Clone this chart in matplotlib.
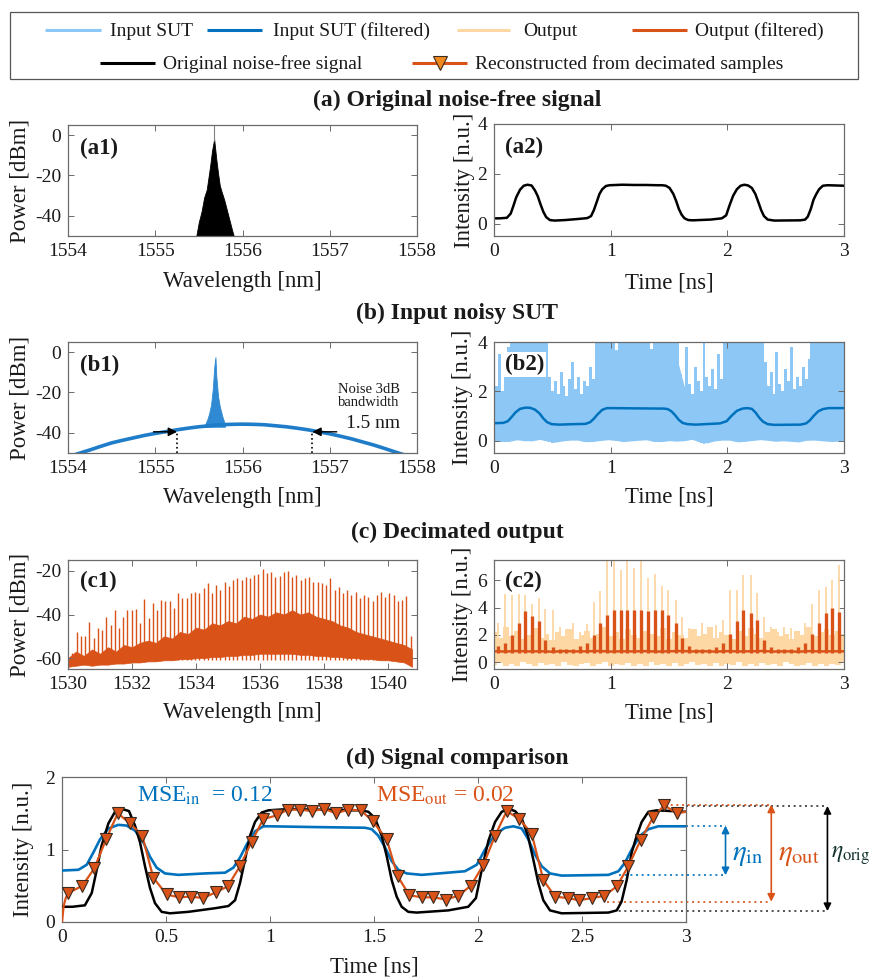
import numpy as np
import matplotlib
matplotlib.use("Agg")
import matplotlib.pyplot as plt
from matplotlib.patches import Rectangle

plt.rcParams['font.family'] = ['Liberation Serif', 'DejaVu Serif']
plt.rcParams['mathtext.fontset'] = 'stix'
plt.rcParams['axes.unicode_minus'] = False

# ---------------- data ----------------
# (a1) noise-free spectrum outline
A1_WL = [1555.47, 1555.50, 1555.53, 1555.56, 1555.59, 1555.61, 1555.63, 1555.65, 1555.675,
         1555.70, 1555.72, 1555.74, 1555.76, 1555.79, 1555.82, 1555.85, 1555.88, 1555.90]
A1_P = [-50, -43, -38, -31, -27, -21, -15, -8, -2, -12, -19, -25, -28, -32, -37, -42, -47, -50]

# (b1) noisy input spectrum: ASE hump + signal peak
B1_WL = [1554.0, 1554.125, 1554.25, 1554.375, 1554.5, 1554.625, 1554.75, 1554.875, 1555.0,
         1555.125, 1555.25, 1555.375, 1555.5, 1555.625, 1555.75, 1555.875, 1556.0, 1556.125,
         1556.25, 1556.375, 1556.5, 1556.625, 1556.75, 1556.875, 1557.0, 1557.125, 1557.25,
         1557.375, 1557.5, 1557.625, 1557.75, 1557.875, 1558.0]
B1_P = [-52, -50.2, -48.5, -46.7, -45, -43.7, -42.5, -41.3, -40.3, -39.4, -38.5, -37.7, -37,
        -36.5, -36, -35.8, -35.7, -35.8, -36, -36.5, -37, -37.7, -38.5, -39.5, -40.5, -41.7,
        -43, -44.5, -46, -47.7, -49.5, -51.2, -53]
B1_PK_WL = [1555.57, 1555.60, 1555.62, 1555.64, 1555.66, 1555.675, 1555.69, 1555.70, 1555.72,
            1555.74, 1555.77, 1555.80]
B1_PK_P = [-36, -33, -30, -26, -18, -8, -2.5, -12, -22, -27, -32, -36]
BW_LEFT, BW_RIGHT, BW_LEVEL = 1555.25, 1556.80, -40

# (c1) decimated output spectrum
C1_COMB_PEAKS = [-57.7, -48, -50, -50, -43.5, -51, -46, -47, -41, -44.7,
                 -38, -46, -41, -38, -38, -37.5, -44, -33, -41.7, -34.8,
                 -38, -33.3, -33.6, -34, -37, -30, -32.5, -32.5, -30, -29.5,
                 -30, -28, -25.6, -30, -26.4, -28.7, -25, -27, -24, -23.4,
                 -24, -22.6, -23.4, -21.8, -21.5, -19.2, -21, -20.3, -22.6, -22.3,
                 -20.3, -20, -22.6, -21.8, -24, -23.4, -22.6, -25, -25, -25.6,
                 -26.4, -23.4, -28.7, -27.2, -30, -28.7, -31, -29.5, -32.5, -31,
                 -31.8, -34, -31, -29.5, -31.8, -30, -31, -34, -33.3, -31.5, -49.8]
C1_COMB_WL = np.linspace(1530.14, 1540.70, len(C1_COMB_PEAKS))
C1_BAND_WL = np.arange(1530.0, 1540.76, 0.25)
C1_BAND_TOP = [-60, -57, -59, -56, -58, -55, -57, -54, -55, -53, -52, -53,
               -50, -51, -48, -49, -46, -47, -44, -45, -43, -44, -41, -42,
               -40, -41, -39, -40, -38, -40, -39, -41, -42, -43, -45, -46,
               -48, -49, -50, -51, -52, -53, -54, -56]
C1_BAND_BOT = [-64, -63.5, -63, -63.5, -63, -63, -62.5, -62.5, -62, -62, -61.5, -61.5,
               -61, -61, -60.5, -60.5, -60, -60, -59.5, -59.5, -59, -59, -58.5, -58.5,
               -58, -58, -58, -58, -58, -58.5, -58.5, -59, -59, -59.5, -59.5, -60,
               -60, -60.5, -60.5, -61, -61, -61.5, -62, -64]

# time-domain signals (ns, n.u.)
T_ORIG = [0, 0.05, 0.11, 0.143, 0.167, 0.19, 0.223, 0.255, 0.287, 0.322, 0.351, 0.375, 0.399,
          0.423, 0.447, 0.479, 0.519, 0.607, 0.736, 0.80, 0.832, 0.856, 0.88, 0.904, 0.928,
          0.96, 0.992, 1.1, 1.2, 1.3, 1.4, 1.44, 1.473, 1.505, 1.537, 1.561, 1.585, 1.609,
          1.633, 1.665, 1.705, 1.857, 1.953, 1.99, 2.018, 2.05, 2.082, 2.114, 2.146, 2.178,
          2.21, 2.24, 2.266, 2.29, 2.314, 2.346, 2.402, 2.627, 2.667, 2.69, 2.715, 2.739,
          2.763, 2.787, 2.819, 2.859, 2.93, 3.0]
Y_ORIG = [0.21, 0.21, 0.23, 0.40, 0.72, 1.05, 1.36, 1.52, 1.56, 1.53, 1.33, 1.10, 0.77,
          0.47, 0.26, 0.14, 0.12, 0.14, 0.19, 0.22, 0.30, 0.54, 0.86, 1.19, 1.38,
          1.51, 1.54, 1.56, 1.55, 1.55, 1.54, 1.54, 1.52, 1.43, 1.19, 0.91, 0.58, 0.35,
          0.21, 0.14, 0.13, 0.16, 0.21, 0.33, 0.72, 1.12, 1.38, 1.52, 1.56, 1.53,
          1.43, 1.19, 0.86, 0.54, 0.30, 0.16, 0.12, 0.13, 0.16, 0.28, 0.58, 0.96,
          1.19, 1.38, 1.52, 1.54, 1.53, 1.52]

T_IN = [0, 0.079, 0.119, 0.151, 0.183, 0.223, 0.271, 0.311, 0.351, 0.391, 0.423, 0.455, 0.495,
        0.559, 0.688, 0.784, 0.824, 0.856, 0.888, 0.928, 0.968, 1.0, 1.2, 1.457, 1.489, 1.521,
        1.553, 1.585, 1.617, 1.657, 1.729, 1.937, 1.994, 2.034, 2.082, 2.13, 2.17, 2.21, 2.242,
        2.274, 2.306, 2.346, 2.402, 2.627, 2.675, 2.707, 2.739, 2.779, 2.819, 2.867, 3.0]
Y_IN = [0.71, 0.72, 0.79, 0.96, 1.14, 1.29, 1.34, 1.33, 1.26, 1.10, 0.90, 0.75, 0.67,
        0.65, 0.67, 0.68, 0.75, 0.89, 1.07, 1.25, 1.32, 1.32, 1.31, 1.30, 1.28, 1.19,
        1.03, 0.84, 0.72, 0.67, 0.65, 0.70, 0.79, 1.00, 1.21, 1.30, 1.32, 1.29, 1.14,
        0.93, 0.77, 0.67, 0.64, 0.65, 0.70, 0.82, 1.00, 1.19, 1.28, 1.32, 1.32]

# decimated samples (reconstruction)
T_REC = [0.030, 0.098, 0.155, 0.212, 0.268, 0.327, 0.386, 0.439, 0.503, 0.562,
         0.619, 0.679, 0.739, 0.796, 0.856, 0.912, 0.968, 1.032, 1.085, 1.144,
         1.200, 1.261, 1.317, 1.377, 1.437, 1.494, 1.561, 1.614, 1.670, 1.729,
         1.785, 1.846, 1.902, 1.966, 2.026, 2.082, 2.138, 2.199, 2.258, 2.314,
         2.370, 2.431, 2.487, 2.546, 2.606, 2.667, 2.723, 2.782, 2.843, 2.896, 2.955]
Y_REC = [0.40, 0.50, 0.74, 1.14, 1.50, 1.36, 1.19, 0.61, 0.38, 0.34,
         0.35, 0.33, 0.41, 0.49, 0.77, 1.11, 1.42, 1.47, 1.55, 1.55,
         1.53, 1.56, 1.50, 1.55, 1.54, 1.39, 1.14, 0.63, 0.37, 0.34,
         0.34, 0.31, 0.36, 0.50, 0.79, 1.19, 1.53, 1.42, 1.22, 0.58,
         0.35, 0.33, 0.30, 0.33, 0.36, 0.49, 0.77, 1.13, 1.45, 1.61, 1.50]
T_OUTF = [0.0, 0.008, 0.018] + T_REC + [3.0]
Y_OUTF = [0.0, 0.22, 0.33] + Y_REC + [1.52]

# (b2) raw noisy input: envelope of the light-blue trace
B2_T = np.linspace(0, 3, 121)
B2_UP = [2.8, 2.2, 3.5, 2.0, 2.6, 3.8,
         4, 4, 4, 4, 4, 4, 4, 4, 4, 4, 4, 4, 4,
         2.6, 2.0, 2.4, 1.9, 2.8, 2.2, 1.8, 2.5, 3.2, 2.1, 2.6, 1.9, 2.4, 2.2, 3.0, 2.5,
         4, 4, 4, 4, 4, 4, 4, 3.6, 4, 4, 4, 4, 4, 4, 4, 4, 4, 4, 4, 3.7, 4, 4, 4, 4, 4, 4, 4, 4, 4,
         2.7, 2.1, 3.8, 2.3, 1.9, 3.0, 2.4, 2.0, 4.0, 2.6, 2.2, 2.9, 2.1, 3.5, 2.5,
         4, 4, 4, 4, 4, 4, 4, 4, 4, 4, 4, 4, 4, 4,
         3.2, 2.2, 2.8, 1.9, 3.6, 2.3, 2.0, 2.9, 2.4, 3.8, 2.1, 2.6, 2.2, 3.0, 2.5, 3.3,
         4, 4, 4, 4, 4, 4, 4, 4, 4, 4, 4, 4]
B2_CORE_T = np.linspace(0, 3, 47)
B2_CORE = [1.8, 1.7, 2.2, 3.4, 3.6, 3.5, 3.4,
           2.2, 1.8, 1.7, 1.9, 1.8, 1.7, 2.0,
           3.2, 3.6, 3.7, 3.6, 3.5, 3.7, 3.6, 3.5, 3.6, 3.7, 3.4,
           2.2, 1.8, 1.7, 1.9, 1.8, 2.4,
           3.4, 3.6, 3.5, 3.6, 3.3,
           2.1, 1.8, 1.7, 1.9, 1.8, 1.9,
           3.2, 3.5, 3.6, 3.6, 3.6]
B2_LO_T = np.linspace(0, 3, 31)
B2_LO = [0.02, -0.06, 0.04, -0.03, 0.06, -0.08, 0.0, 0.04, -0.06, 0.0, 0.05, -0.04, 0.0, 0.04,
         -0.06, 0.0, -0.03, 0.06, -0.12, 0.0, 0.04, -0.06, 0.0, 0.05, -0.03, 0.0, -0.06, 0.04,
         0.0, -0.04, 0.0]

# (c2) decimated output: spikes at sample instants
C2_SPIKE_DARK = [1.16, 1.4, 1.97, 2.9, 3.75, 3.4, 3.0, 1.65, 1.1, 1.0,
                 1.0, 1.0, 1.2, 1.4, 2.0, 2.85, 3.5, 3.8, 3.8, 3.8,
                 3.8, 3.8, 3.75, 3.8, 3.8, 3.5, 2.85, 1.8, 1.2, 1.0,
                 1.0, 1.0, 1.1, 1.4, 2.1, 3.0, 3.8, 3.6, 3.1, 1.65,
                 1.1, 1.0, 1.0, 1.0, 1.1, 1.4, 2.1, 2.9, 3.6, 4.0, 3.7]
C2_SPIKE_LIGHT = [2.9, 5.0, 4.9, 5.0, 4.9, 4.3, 4.7, 3.9, 3.8, 2.6,
                  2.4, 2.9, 2.2, 2.8, 4.4, 5.2, 7.5, 7.5, 6.8, 7.5,
                  6.9, 7.5, 6.2, 6.5, 5.6, 5.3, 4.6, 3.3, 2.5, 2.4,
                  2.9, 2.3, 2.7, 3.1, 5.3, 5.3, 6.4, 6.4, 5.1, 3.3,
                  2.6, 2.2, 2.6, 2.5, 2.3, 2.9, 4.3, 5.3, 5.5, 6.0, 7.1]
C2_T = np.linspace(0, 3, 61)
C2_UP = [2.2, 1.8, 2.6, 1.9, 2.3, 1.7, 2.0, 2.5, 1.8, 2.1, 1.6, 2.2, 1.9, 2.4, 1.7, 2.0,
         2.3, 1.8, 2.1, 2.6, 1.9, 2.2, 1.7, 2.4, 2.0, 1.8, 2.3, 2.1, 1.9, 2.5, 1.7, 2.2,
         2.0, 1.8, 2.4, 1.9, 2.1, 2.6, 1.8, 2.2, 2.0, 1.7, 2.3, 1.9, 2.5, 2.1, 1.8, 2.2,
         2.4, 1.9, 2.1, 1.7, 2.3, 2.0, 2.6, 1.9, 2.2, 2.4, 2.0, 2.3, 2.1]
C2_LO = [-0.2, -0.05, -0.3, -0.1, -0.25, 0.0, -0.15, -0.3, -0.05, -0.2, -0.1, -0.25, 0.0,
         -0.2, -0.3, -0.1, -0.05, -0.25, -0.15, 0.0, -0.3, -0.1, -0.2, -0.05, -0.25, -0.15,
         -0.3, 0.0, -0.2, -0.1, -0.25, -0.05, -0.3, -0.15, 0.0, -0.2, -0.1, -0.25, -0.05,
         -0.3, -0.15, -0.2, 0.0, -0.25, -0.1, -0.3, -0.05, -0.2, -0.15, -0.25, 0.0, -0.1,
         -0.3, -0.2, -0.05, -0.25, -0.15, -0.3, -0.1, -0.2, -0.05]
C2_BASE_T = np.linspace(0, 3, 31)
C2_BASE = [0.80, 0.78, 0.82, 0.79, 0.80, 0.77, 0.81, 0.79, 0.80, 0.82, 0.78, 0.80, 0.79, 0.81,
           0.78, 0.80, 0.82, 0.79, 0.80, 0.78, 0.81, 0.79, 0.80, 0.82, 0.78, 0.80, 0.77, 0.81,
           0.79, 0.80, 0.80]

# (d) annotation levels
ETA_IN = (0.645, 1.33)
ETA_OUT = (0.28, 1.62)
ETA_ORIG = (0.15, 1.60)
MSE_IN, MSE_OUT = 0.12, 0.02

LEG_LABELS = ['Input SUT', 'Input SUT (filtered)', 'Output', 'Output (filtered)',
              'Original noise-free signal', 'Reconstructed from decimated samples']

# ---------------- style ----------------
LBLUE = '#8CC7F6'
BLUE = '#0072BD'
LORANGE = '#FDD7A4'
ORANGE = '#D95319'
BLACK = '#000000'
FRAME = '#6b6b6b'
TXT = '#1a1a1a'

W, H = 873, 977
fig = plt.figure(figsize=(W / 100, H / 100), dpi=100)


def add_ax(l, t, r, b):
    return fig.add_axes([l / W, 1 - b / H, (r - l) / W, (b - t) / H])


def style(ax):
    ax.tick_params(direction='in', top=True, right=True, length=4, width=0.7,
                   color=FRAME, labelsize=14, labelcolor=TXT, pad=5)
    for s in ax.spines.values():
        s.set_color(FRAME)
        s.set_linewidth(0.9)


def labels(ax, xl, yl, xly, ylx):
    ax.set_xlabel(xl, fontsize=16.5, color=TXT, va='center')
    ax.xaxis.set_label_coords(0.5, xly)
    ax.set_ylabel(yl, fontsize=16.5, color=TXT, va='center')
    ax.yaxis.set_label_coords(ylx, 0.5)


def plabel(ax, s, x, y, bg=False):
    kw = dict(transform=ax.transAxes, fontsize=16.5, fontweight='bold', va='center',
              ha='left', color=TXT, zorder=10)
    if bg:
        kw['bbox'] = dict(facecolor='white', edgecolor='none', pad=1.5)
    ax.text(x, y, s, **kw)


# ---- (a1)
ax = add_ax(68, 125, 417, 236)
ax.fill_between(A1_WL, -50, A1_P, color=BLACK, lw=0.6)
ax.vlines([1555.675], -3, 6, color='#808080', lw=0.8)
ax.set_xlim(1554, 1558); ax.set_ylim(-50, 5)
ax.set_xticks([1554, 1555, 1556, 1557, 1558]); ax.set_yticks([-40, -20, 0])
style(ax); labels(ax, 'Wavelength [nm]', 'Power [dBm]', -0.41, -0.1375)
plabel(ax, '(a1)', 0.035, 0.79)

# ---- (a2)
ax = add_ax(494, 124, 844, 236)
ax.plot(T_ORIG, Y_ORIG, color=BLACK, lw=1.8)
ax.set_xlim(0, 3); ax.set_ylim(-0.5, 4)
ax.set_xticks([0, 1, 2, 3]); ax.set_yticks([0, 2, 4])
style(ax); labels(ax, 'Time [ns]', 'Intensity [n.u.]', -0.42, -0.085)
plabel(ax, '(a2)', 0.03, 0.79)

# ---- (b1)
ax = add_ax(68, 342, 417, 453)
ax.plot(B1_WL, B1_P, color='#1E7CC8', lw=2.6, solid_capstyle='butt')
ax.fill_between(B1_PK_WL, -37, B1_PK_P, color='#2F8AD3', lw=0.6)
ax.vlines([BW_LEFT, BW_RIGHT], -50, BW_LEVEL, colors='black', linestyles=':', lw=1.2)
ax.annotate('', xy=(BW_LEFT, BW_LEVEL + 0.5), xytext=(1554.98, BW_LEVEL + 0.5),
            arrowprops=dict(arrowstyle='-|>', color='black', lw=1.0, mutation_scale=13,
                            shrinkA=0, shrinkB=0))
ax.annotate('', xy=(BW_RIGHT, BW_LEVEL + 0.5), xytext=(1557.08, BW_LEVEL + 0.5),
            arrowprops=dict(arrowstyle='-|>', color='black', lw=1.0, mutation_scale=13,
                            shrinkA=0, shrinkB=0))
ax.text(1557.45, -22, 'Noise 3dB\nbandwidth', fontsize=10.5, ha='center', va='center',
        color=TXT, linespacing=1.0)
ax.text(1557.5, -35.5, '1.5 nm', fontsize=14, ha='center', va='center', color=TXT)
ax.set_xlim(1554, 1558); ax.set_ylim(-50, 5)
ax.set_xticks([1554, 1555, 1556, 1557, 1558]); ax.set_yticks([-40, -20, 0])
style(ax); labels(ax, 'Wavelength [nm]', 'Power [dBm]', -0.40, -0.1375)
plabel(ax, '(b1)', 0.035, 0.79)

# ---- (b2)
ax = add_ax(494, 342, 844, 453)
lo = np.interp(B2_T, B2_LO_T, B2_LO)
ax.fill_between(B2_T, lo, B2_UP, color=LBLUE, lw=0, step='mid')
ax.fill_between(B2_CORE_T, np.interp(B2_CORE_T, B2_LO_T, B2_LO), B2_CORE, color=LBLUE, lw=0)
ax.plot(T_IN, Y_IN, color=BLUE, lw=1.8)
ax.set_xlim(0, 3); ax.set_ylim(-0.5, 4)
ax.set_xticks([0, 1, 2, 3]); ax.set_yticks([0, 2, 4])
style(ax); labels(ax, 'Time [ns]', 'Intensity [n.u.]', -0.40, -0.089)
plabel(ax, '(b2)', 0.03, 0.80, bg=True)

# ---- (c1)
ax = add_ax(68, 560, 417, 669)
ax.fill_between(C1_BAND_WL, C1_BAND_BOT, C1_BAND_TOP, color=ORANGE, lw=0.5)
ax.vlines(C1_COMB_WL, -61, C1_COMB_PEAKS, colors=ORANGE, lw=1.0)
ax.set_xlim(1530, 1540.9); ax.set_ylim(-65, -15)
ax.set_xticks([1530, 1532, 1534, 1536, 1538, 1540]); ax.set_yticks([-60, -40, -20])
style(ax); labels(ax, 'Wavelength [nm]', 'Power [dBm]', -0.40, -0.1375)
plabel(ax, '(c1)', 0.035, 0.80)

# ---- (c2)
ax = add_ax(494, 560, 844, 669)
ax.fill_between(C2_T, C2_LO, C2_UP, color=LORANGE, lw=0, step='mid')
ax.vlines(T_REC, 0, C2_SPIKE_LIGHT, colors=LORANGE, lw=1.3)
ax.plot(C2_BASE_T, C2_BASE, color=ORANGE, lw=1.8)
ax.vlines(T_REC, 0.7, C2_SPIKE_DARK, colors=ORANGE, lw=2.4)
ax.set_xlim(0, 3); ax.set_ylim(-0.5, 7.5)
ax.set_xticks([0, 1, 2, 3]); ax.set_yticks([0, 2, 4, 6])
style(ax); labels(ax, 'Time [ns]', 'Intensity [n.u.]', -0.40, -0.089)
plabel(ax, '(c2)', 0.03, 0.80, bg=True)

# ---- (d)
ax = add_ax(62, 777, 686, 922)
ax.plot(T_IN, Y_IN, color=BLUE, lw=1.9, zorder=3)
ax.plot(T_ORIG, Y_ORIG, color=BLACK, lw=1.8, zorder=3)
ax.plot(T_OUTF, Y_OUTF, color=ORANGE, lw=1.6, zorder=4)
ax.plot(T_REC, Y_REC, ls='none', marker='v', ms=9, mfc=ORANGE, mec='#3a2a20', mew=0.8, zorder=5)
ax.set_xlim(0, 3); ax.set_ylim(0, 2)
ax.set_xticks([0, 0.5, 1, 1.5, 2, 2.5, 3])
ax.set_xticklabels(['0', '0.5', '1', '1.5', '2', '2.5', '3'])
ax.set_yticks([0, 1, 2])
style(ax); labels(ax, 'Time [ns]', 'Intensity [n.u.]', -0.31, -0.0625)
ax.text(0.36, 1.74, r'MSE$_{\mathrm{in}}$  = %.2f' % MSE_IN, color=BLUE, fontsize=17,
        va='center', ha='left')
ax.text(1.51, 1.74, r'MSE$_{\mathrm{out}}$ = %.2f' % MSE_OUT, color=ORANGE, fontsize=17,
        va='center', ha='left')

dot = dict(ls=(0, (1.2, 2.2)), lw=1.2, clip_on=False)
ax.plot([3.0, 3.19], [ETA_IN[1]] * 2, color=BLUE, **dot)
ax.plot([2.68, 3.19], [ETA_IN[0]] * 2, color=BLUE, **dot)
ax.plot([2.90, 3.41], [ETA_OUT[1]] * 2, color=ORANGE, **dot)
ax.plot([2.62, 3.41], [ETA_OUT[0]] * 2, color=ORANGE, **dot)
ax.plot([3.0, 3.68], [ETA_ORIG[1]] * 2, color='#333333', **dot)
ax.plot([2.65, 3.68], [ETA_ORIG[0]] * 2, color='#333333', **dot)
for xx, (y0, y1), c in [(3.19, ETA_IN, BLUE), (3.41, ETA_OUT, ORANGE), (3.68, ETA_ORIG, BLACK)]:
    ax.annotate('', xy=(xx, y1), xytext=(xx, y0), annotation_clip=False,
                arrowprops=dict(arrowstyle='<|-|>', color=c, lw=1.2, mutation_scale=11,
                                shrinkA=0, shrinkB=0))
ax.text(3.22, 0.92, r'$\eta_{\mathrm{in}}$', color=BLUE, fontsize=21, va='center', ha='left')
ax.text(3.44, 0.92, r'$\eta_{\mathrm{out}}$', color=ORANGE, fontsize=21, va='center', ha='left')
ax.text(3.695, 0.92, r'$\eta_{\mathrm{orig}}$', color='#10302c', fontsize=17, va='center',
        ha='left')

# ---- titles
for s, y in [('(a) Original noise-free signal', 100), ('(b) Input noisy SUT', 313),
             ('(c) Decimated output', 532), ('(d) Signal comparison', 758)]:
    fig.text(457 / W, 1 - y / H, s, ha='center', va='center', fontsize=17,
             fontweight='bold', color=TXT)

# ---- legend (drawn in figure pixel space)
lax = fig.add_axes([0, 0, 1, 1])
lax.set_xlim(0, W); lax.set_ylim(H, 0); lax.axis('off')
lax.add_patch(Rectangle((10, 12), 848, 67, fill=False, edgecolor='#555555', lw=0.9))
leg = [((45, 101), 30, LBLUE, 110), ((207, 262), 30, BLUE, 273),
       ((457, 510), 30, LORANGE, 523), ((632, 687), 30, ORANGE, 695),
       ((100, 155), 63, BLACK, 163), ((412, 467), 63, ORANGE, 475)]
for i, ((x0, x1), y, c, tx) in enumerate(leg):
    lax.plot([x0, x1], [y, y], color=c, lw=2.2, solid_capstyle='butt')
    lax.text(tx, y + 1, LEG_LABELS[i], fontsize=14, va='center', ha='left', color=TXT)
lax.plot([440], [63], marker='v', ms=10, mfc='#F08A1E', mec='#3a2a20', mew=0.8)

fig.savefig('out.png', dpi=100)
